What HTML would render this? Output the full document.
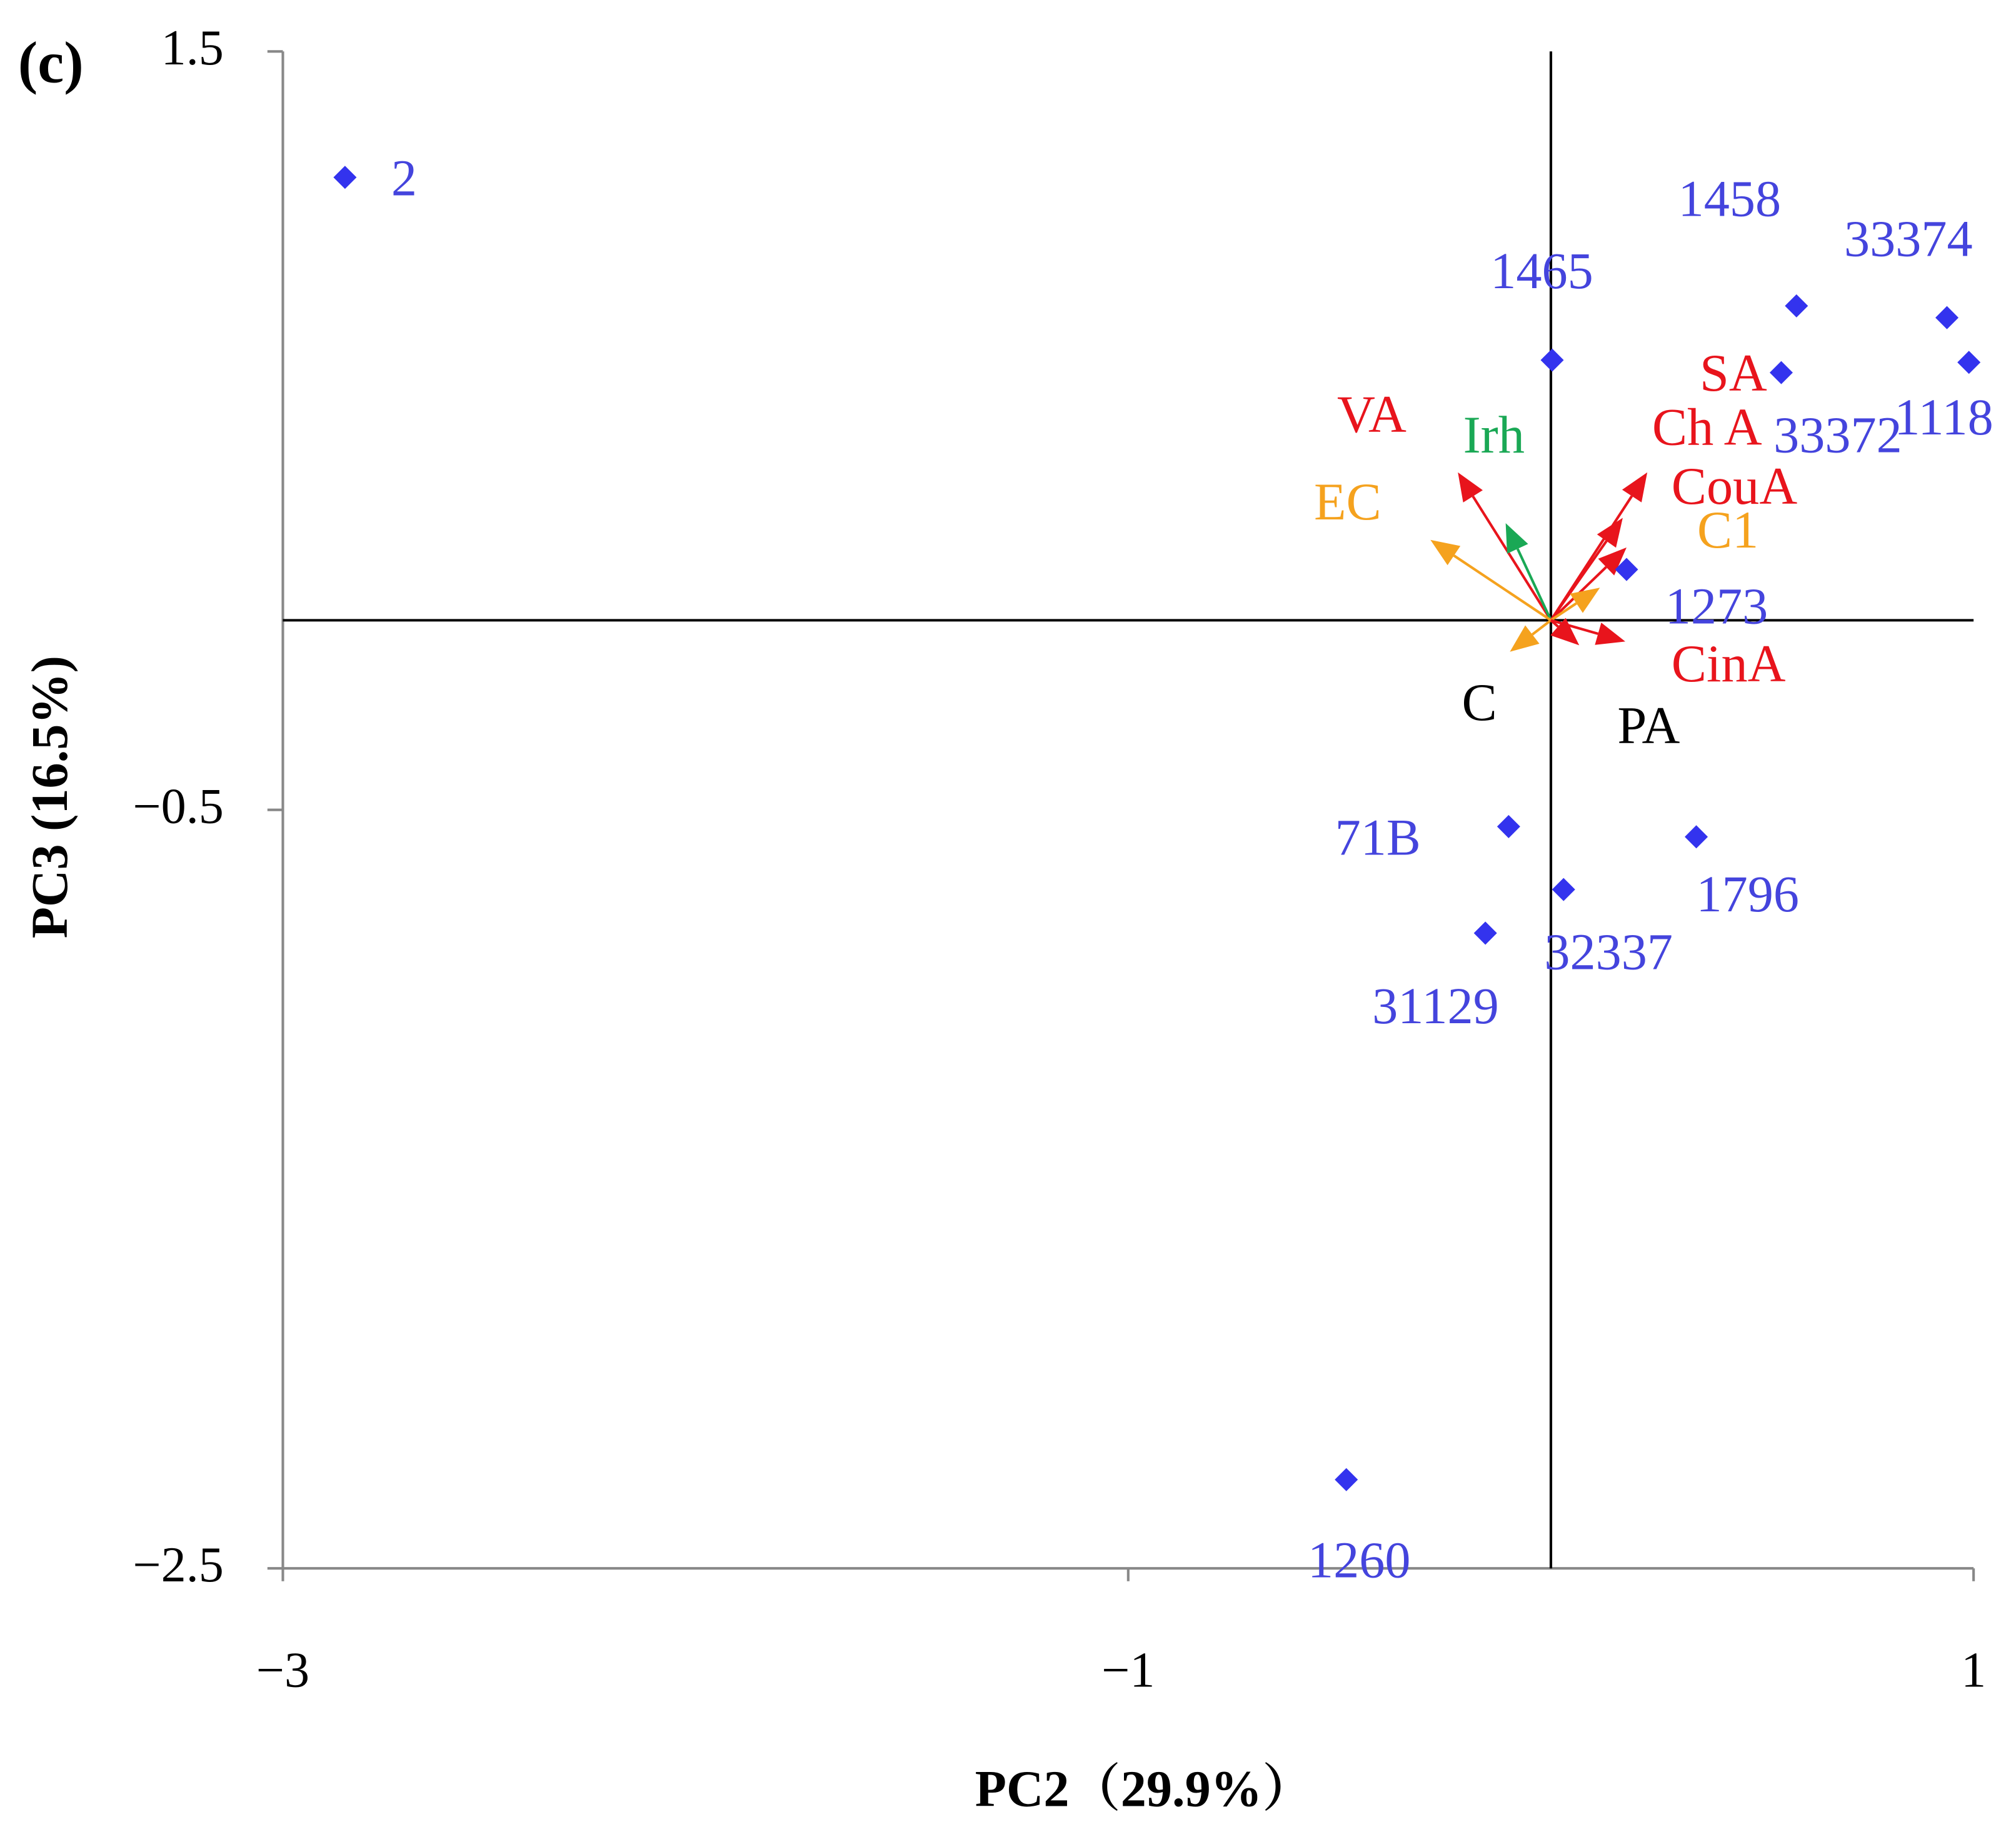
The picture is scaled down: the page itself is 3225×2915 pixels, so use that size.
<!DOCTYPE html>
<html><head><meta charset="utf-8"><style>
html,body{margin:0;padding:0;background:#fff;}
svg{display:block;}
text{font-family:"Liberation Serif","Noto Serif CJK SC",serif;}
</style></head><body>
<svg id="chart" width="3225" height="2915" viewBox="0 0 1568 1417.3" preserveAspectRatio="none" xmlns="http://www.w3.org/2000/svg">
<text x="14" y="64" font-size="46" font-weight="bold">(c)</text>
<g id="axes"></g>
<g id="arrows"></g>
<g id="points"></g>
<text x="890" y="1405" font-size="40" font-weight="bold" text-anchor="middle">PC2（29.9%）</text>
<text transform="translate(52,620) rotate(-90)" font-size="40" font-weight="bold" text-anchor="middle">PC3 (16.5%)</text>
</svg>
<script>
const xTicks = [-3, -1, 1];
const yTicks = [1.5, -0.5, -2.5];
const pointNames = ["2","1465","1458","33374","1118","33372","1273","71B","1796","32337","31129","1260"];
const pointX = [-2.853, 0.003, 0.581, 0.937, 0.989, 0.545, 0.179, -0.10, 0.344, 0.030, -0.155, -0.484];
const pointY = [1.168, 0.686, 0.829, 0.798, 0.680, 0.653, 0.134, -0.544, -0.571, -0.710, -0.825, -2.266];
const labelDX = [36, -48, -92, -80, -58, -6, 30, -135, 0, -15, -88, -30];
const labelDY = [14, -56, -70, -48, 56, 62, 42, 22, 58, 62, 70, 76];
const arrowNames = ["VA","Irh","EC","Ch A","CouA","SA","C1","C","PA","CinA"];
const arrowX = [-0.22, -0.107, -0.285, 0.228, 0.17, 0.179, 0.116, -0.097, 0.067, 0.176];
const arrowY = [0.39, 0.256, 0.212, 0.39, 0.27, 0.192, 0.086, -0.083, -0.066, -0.056];
const arrowColors = ["#e8141c","#1aa855","#f5a21e","#e8141c","#e8141c","#e8141c","#f5a21e","#f5a21e","#e8141c","#e8141c"];
const arrowLabelX = [1040, 1138, 1022, 1285, 1300, 1322, 1320, 1137, 1258, 1300];
const arrowLabelY = [336, 352, 404, 346, 392, 304, 426, 560, 578, 530];
const arrowLabelColors = ["#e8141c","#1aa855","#f5a21e","#e8141c","#e8141c","#e8141c","#f5a21e","#000","#000","#e8141c"];

const NS = "http://www.w3.org/2000/svg";
const X0 = 220, X1 = 1535, Y0 = 40, Y1 = 1220;
const xs = v => X0 + (v - (-3)) / 4 * (X1 - X0);
const ys = v => Y0 + (1.5 - v) / 4 * (Y1 - Y0);
function mk(tag, attrs, parent){const e=document.createElementNS(NS,tag);for(const k in attrs)e.setAttribute(k,attrs[k]);parent.appendChild(e);return e;}

const axes = document.getElementById("axes");
let e;
e = mk("line",{x1:X0,y1:Y0,x2:X0,y2:Y1,stroke:"#888","stroke-width":2},axes);


e = mk("line",{x1:X0,y1:Y1,x2:X1,y2:Y1,stroke:"#888","stroke-width":2},axes);


xTicks.forEach(t=>{
  const l = mk("line",{x1:xs(t),y1:Y1,x2:xs(t),y2:Y1+10,stroke:"#888","stroke-width":2},axes);
  
  
  const tx = mk("text",{x:xs(t),y:Y1+92,"font-size":39,"text-anchor":"middle"},axes);
  tx.textContent = t < 0 ? "\u2212" + Math.abs(t) : String(t);
  
  
});
yTicks.forEach(t=>{
  const l = mk("line",{x1:X0-12,y1:ys(t),x2:X0,y2:ys(t),stroke:"#888","stroke-width":2},axes);
  
  
  const tx = mk("text",{x:X0-46,y:ys(t)+10,"font-size":39,"text-anchor":"end"},axes);
  tx.textContent = t < 0 ? "\u2212" + Math.abs(t) : String(t);
  
  
});
e = mk("line",{x1:X0,y1:ys(0),x2:X1,y2:ys(0),stroke:"#000","stroke-width":2},axes);


e = mk("line",{x1:xs(0),y1:Y0,x2:xs(0),y2:Y1,stroke:"#000","stroke-width":2},axes);



const ag = document.getElementById("arrows");
arrowNames.forEach((n,i)=>{
  const x1=xs(0),y1=ys(0),x2=xs(arrowX[i]),y2=ys(arrowY[i]);
  const dx=x2-x1,dy=y2-y1,L=Math.hypot(dx,dy),ux=dx/L,uy=dy/L;
  const hl=22,hw=9,bx=x2-ux*hl,by=y2-uy*hl;
  const line = mk("line",{x1:x1,y1:y1,x2:bx,y2:by,stroke:arrowColors[i],"stroke-width":2},ag);
  
  
  const head = mk("polygon",{points:`${x2},${y2} ${bx-uy*hw},${by+ux*hw} ${bx+uy*hw},${by-ux*hw}`,fill:arrowColors[i]},ag);
  
  
  const t = mk("text",{x:arrowLabelX[i],y:arrowLabelY[i],"font-size":41,fill:arrowLabelColors[i]},ag);
  t.textContent = n;
  
  
});

const pg = document.getElementById("points");
pointNames.forEach((n,i)=>{
  const cx=xs(pointX[i]),cy=ys(pointY[i]),r=9;
  const p = mk("polygon",{points:`${cx},${cy-r} ${cx+r},${cy} ${cx},${cy+r} ${cx-r},${cy}`,fill:"#3333ee"},pg);
  
  
  const t = mk("text",{x:cx+labelDX[i],y:cy+labelDY[i],"font-size":40,fill:"#4444dd"},pg);
  t.textContent = n;
  
  
});
</script>
</body></html>
